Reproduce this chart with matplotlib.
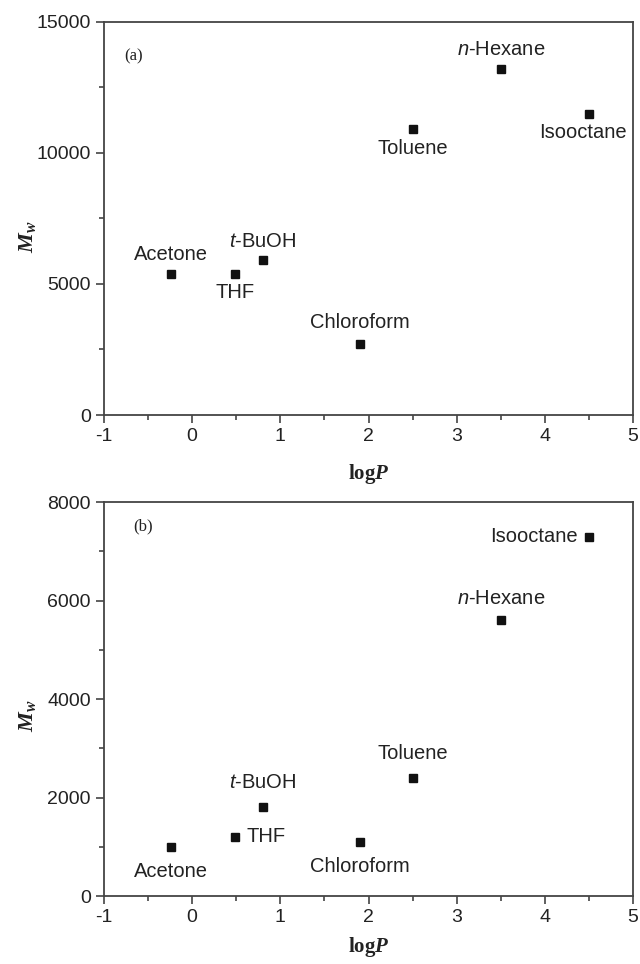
import numpy as np
import matplotlib.pyplot as plt
from matplotlib.ticker import MultipleLocator

# solvent data
solvents = ['Acetone', 'THF', r'$\mathit{t}$-BuOH', 'Chloroform', 'Toluene',
            r'$\mathit{n}$-Hexane', 'Isooctane']
logp = [-0.24, 0.49, 0.8, 1.9, 2.5, 3.5, 4.5]
mw_a = [5400, 5400, 5900, 2700, 10900, 13200, 11500]
mw_b = [1000, 1200, 1800, 1100, 2400, 5600, 7300]

# label placement (offset in points, ha, va) for each panel
offs_a = [(0, 7, 'center', 'bottom'), (0, -7, 'center', 'top'),
          (0, 7, 'center', 'bottom'), (0, 9, 'center', 'bottom'),
          (0, -7, 'center', 'top'), (0, 7, 'center', 'bottom'),
          (-4, -7, 'center', 'top')]
offs_b = [(0, -11, 'center', 'top'), (8, 0, 'left', 'center'),
          (0, 11, 'center', 'bottom'), (0, -11, 'center', 'top'),
          (0, 11, 'center', 'bottom'), (0, 9, 'center', 'bottom'),
          (-8, 0, 'right', 'center')]

plt.rcParams['font.family'] = ['Liberation Sans', 'DejaVu Sans']
plt.rcParams['axes.unicode_minus'] = False
plt.rcParams['mathtext.fontset'] = 'custom'
plt.rcParams['mathtext.it'] = 'Liberation Sans:italic'
plt.rcParams['mathtext.rm'] = 'Liberation Sans'
plt.rcParams['mathtext.bf'] = 'Liberation Serif:bold:italic'

fig = plt.figure(figsize=(6.4, 9.64), dpi=100)
ax1 = fig.add_axes([0.1625, 0.5695, 0.8266, 0.4077])
ax2 = fig.add_axes([0.1625, 0.0705, 0.8266, 0.4087])

spine_col = '#444444'
for ax, mw, offs, ymax, ystep, tag, tpos, xpad, ylab_y in [
        (ax1, mw_a, offs_a, 15000, 5000, '(a)', (0.038, 0.913), 12, 0.453),
        (ax2, mw_b, offs_b, 8000, 2000, '(b)', (0.055, 0.937), 6, 0.459)]:
    ax.plot(logp, mw, 's', color='#111111', ms=6, ls='none')
    for name, x, y, (dx, dy, ha, va) in zip(solvents, logp, mw, offs):
        ax.annotate(name, (x, y), xytext=(dx, dy), textcoords='offset points',
                    ha=ha, va=va, fontsize=14.5, color='#222222')
    ax.set_xlim(-1, 5)
    ax.set_ylim(0, ymax)
    ax.xaxis.set_major_locator(MultipleLocator(1))
    ax.xaxis.set_minor_locator(MultipleLocator(0.5))
    ax.yaxis.set_major_locator(MultipleLocator(ystep))
    ax.yaxis.set_minor_locator(MultipleLocator(ystep / 2))
    ax.tick_params(which='both', direction='out', color=spine_col,
                   labelsize=14, labelcolor='#222222', width=1.2)
    ax.tick_params(which='major', length=6)
    ax.tick_params(which='minor', length=3.5)
    for s in ax.spines.values():
        s.set_color(spine_col)
        s.set_linewidth(1.3)
    ax.text(tpos[0], tpos[1], tag, transform=ax.transAxes, fontsize=12,
            family='Liberation Serif', color='#222222', va='center')
    ax.set_xlabel(r'log$\mathbf{P}$', fontsize=15, family='Liberation Serif',
                  fontweight='bold', labelpad=xpad, color='#222222')
    ax.set_ylabel(r'$\mathbf{M}_{\mathbf{w}}$', fontsize=16, color='#222222')
    ax.yaxis.set_label_coords(-0.122, ylab_y)

fig.savefig('out.png', dpi=100)
